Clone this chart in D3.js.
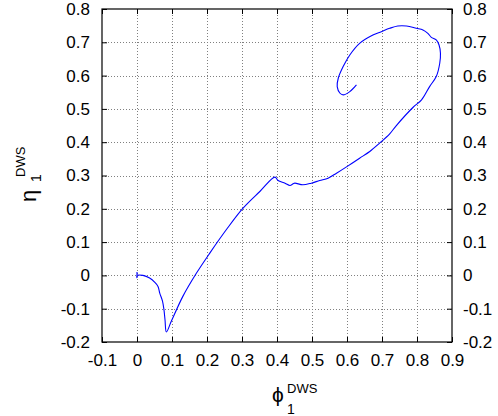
<!DOCTYPE html>
<html>
<head>
<meta charset="utf-8">
<script src="https://cdn.jsdelivr.net/npm/d3@7"></script>
<style>
  body { margin: 0; background: #fff; }
  svg text { font-family: "Liberation Sans", Arial, sans-serif; fill: #000; }
  .grid line { stroke: #808080; stroke-dasharray: 1,2; }
</style>
</head>
<body>
<svg id="chart" width="498" height="416"></svg>
<script>
// trajectory: phi_1^DWS (x) vs eta_1^DWS (y)
var phi = [0, 0, 0, 0.017, 0.036, 0.051, 0.06, 0.065, 0.073, 0.077,
  0.08, 0.084, 0.098, 0.131, 0.17, 0.208, 0.255, 0.303, 0.351, 0.394,
  0.403, 0.423, 0.437, 0.446, 0.451, 0.474, 0.498, 0.522, 0.546, 0.57,
  0.603, 0.636, 0.665, 0.693, 0.722, 0.741, 0.789, 0.813, 0.836, 0.855,
  0.865, 0.867, 0.863, 0.855, 0.841, 0.831, 0.817, 0.798, 0.77, 0.745,
  0.722, 0.698, 0.674, 0.636, 0.608, 0.589, 0.575, 0.572, 0.58, 0.589,
  0.608, 0.627];
var eta = [0.01, -0.008, 0, 0, -0.008, -0.021, -0.033, -0.053, -0.078, -0.103,
  -0.133, -0.17, -0.138, -0.063, 0.007, 0.067, 0.137, 0.202, 0.252, 0.295,
  0.285, 0.277, 0.27, 0.275, 0.277, 0.272, 0.277, 0.285, 0.292, 0.307,
  0.329, 0.352, 0.372, 0.397, 0.425, 0.45, 0.505, 0.527, 0.567, 0.597,
  0.637, 0.667, 0.692, 0.707, 0.715, 0.727, 0.737, 0.742, 0.749, 0.749,
  0.742, 0.732, 0.722, 0.697, 0.662, 0.627, 0.592, 0.567, 0.547, 0.542,
  0.552, 0.572];

var xTicks = [-0.1, 0, 0.1, 0.2, 0.3, 0.4, 0.5, 0.6, 0.7, 0.8, 0.9];
var yTicks = [-0.2, -0.1, 0, 0.1, 0.2, 0.3, 0.4, 0.5, 0.6, 0.7, 0.8];

var svg = d3.select('#chart');
// plot box (note: "top" is a reserved window global, so use other names)
var pL = 102, pR = 452, pT = 9, pB = 342;

var x = d3.scaleLinear().domain([-0.1, 0.9]).range([pL, pR]);
var y = d3.scaleLinear().domain([-0.2, 0.8]).range([pB, pT]);

var lab = function (d) { return Math.abs(d) < 1e-9 ? '0' : String(+d.toFixed(1)); };

// dotted grid
var grid = svg.append('g').attr('class', 'grid');
grid.selectAll('.gx').data(xTicks.slice(1, -1)).enter().append('line')
  .attr('x1', function (d) { return Math.round(x(d)) + 0.5; })
  .attr('x2', function (d) { return Math.round(x(d)) + 0.5; })
  .attr('y1', pT).attr('y2', pB);
grid.selectAll('.gy').data(yTicks.slice(1, -1)).enter().append('line')
  .attr('y1', function (d) { return Math.round(y(d)) + 0.5; })
  .attr('y2', function (d) { return Math.round(y(d)) + 0.5; })
  .attr('x1', pL).attr('x2', pR);

// axes with inward ticks on all four sides
function styleAxis(g) {
  g.select('.domain').remove();
  g.selectAll('.tick line').attr('stroke', '#000');
  g.selectAll('.tick text').style('font-size', '17px');
}
svg.append('g').attr('transform', 'translate(0,' + pB + ')')
  .call(d3.axisBottom(x).tickValues(xTicks).tickFormat(lab).tickSizeInner(-5).tickPadding(12))
  .call(styleAxis);
svg.append('g').attr('transform', 'translate(0,' + pT + ')')
  .call(d3.axisTop(x).tickValues(xTicks).tickFormat('').tickSizeInner(-5))
  .call(styleAxis);
svg.append('g').attr('transform', 'translate(' + pL + ',0)')
  .call(d3.axisLeft(y).tickValues(yTicks).tickFormat(lab).tickSizeInner(-5).tickPadding(12))
  .call(styleAxis);
svg.append('g').attr('transform', 'translate(' + pR + ',0)')
  .call(d3.axisRight(y).tickValues(yTicks).tickFormat(lab).tickSizeInner(-5).tickPadding(11))
  .call(styleAxis);

// frame
svg.append('rect')
  .attr('x', pL).attr('y', pT)
  .attr('width', pR - pL).attr('height', pB - pT)
  .attr('fill', 'none').attr('stroke', '#000').attr('stroke-width', 1.2);

// the trajectory
var line = d3.line()
  .x(function (d) { return x(d[0]); })
  .y(function (d) { return y(d[1]); })
  .curve(d3.curveCatmullRom.alpha(0.5));
svg.append('path')
  .datum(d3.zip(phi, eta))
  .attr('d', line)
  .attr('fill', 'none')
  .attr('stroke', '#0000ff')
  .attr('stroke-width', 1.1);

// axis labels
var xl = svg.append('text').attr('x', 272).attr('y', 402).style('font-size', '21px');
xl.append('tspan').text('\u03d5');
xl.append('tspan').attr('x', 287).attr('y', 414).style('font-size', '14px').text('1');
xl.append('tspan').attr('x', 287).attr('y', 393).style('font-size', '13px').text('DWS');

var yl = svg.append('text').attr('transform', 'translate(36,202) rotate(-90)').style('font-size', '22px');
yl.append('tspan').attr('x', 0).attr('y', 0).text('\u03b7');
yl.append('tspan').attr('x', 20).attr('y', 5).style('font-size', '14px').text('1');
yl.append('tspan').attr('x', 25).attr('y', -11).style('font-size', '13px').text('DWS');
</script>
</body>
</html>
